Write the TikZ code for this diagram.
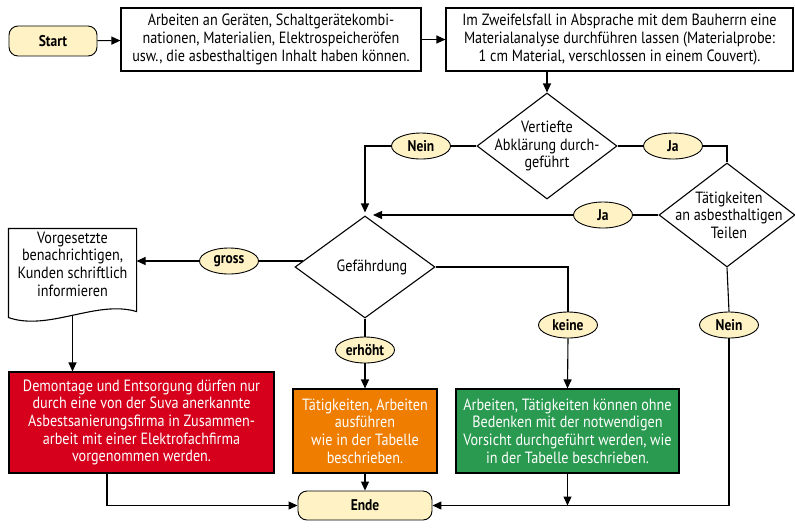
\documentclass[tikz,border=0pt]{standalone}
\usepackage{fontspec}
\setmainfont{PT Sans}[FakeStretch=0.87]
\usetikzlibrary{arrows.meta,shapes.geometric,calc}
\definecolor{lab}{HTML}{FFF3C6}
\definecolor{redb}{HTML}{D6001C}
\definecolor{orab}{HTML}{EE7D00}
\definecolor{grnb}{HTML}{2A9A50}
\begin{document}
\begin{tikzpicture}[x=1pt,y=-1pt,line width=1.1pt,
  every node/.style={font=\fontsize{16.3}{17.6}\selectfont,inner sep=0pt},
  txtbox/.style={draw,rectangle,align=center,line width=1.1pt},
  colbox/.style={draw,rectangle,align=center,text=white,line width=1.1pt},
  lbl/.style={draw,ellipse,fill=lab,font=\fontsize{15.5}{17.5}\selectfont\bfseries,line width=0.9pt,minimum width=59pt,minimum height=26pt},
  term/.style={draw,rectangle,rounded corners=9pt,fill=lab,font=\fontsize{15.5}{17.5}\selectfont\bfseries,line width=0.9pt},
  dia/.style={draw,diamond,line width=1.1pt},
  arr/.style={-{Triangle[length=9pt,width=8pt]}}]
\useasboundingbox (0,0) rectangle (795,531);

% nodes
\node[term,minimum width=88pt,minimum height=30pt] (start) at (53,41) {Start};
\node[txtbox,minimum width=300pt,minimum height=63pt] (box1) at (271,39.5)
  {Arbeiten an Geräten, Schaltgerätekombi-\\nationen, Materialien, Elektrospeicheröfen\\usw., die asbesthaltigen Inhalt haben können.};
\node[txtbox,minimum width=347pt,minimum height=63pt] (box2) at (619.5,39.5)
  {Im Zweifelsfall in Absprache mit dem Bauherrn eine\\Materialanalyse durchführen lassen (Materialprobe:\\1 cm Material, verschlossen in einem Couvert).};
\node[dia,minimum width=140pt,minimum height=106pt] (d1) at (547,146) {};
\node[align=center] (d1t) at (547,146) {Vertiefte\\Abklärung durch-\\geführt};
\node[lbl] (nein1) at (421,146) {Nein};
\node[lbl] (ja1) at (673,146) {Ja};
\node[dia,minimum width=136pt,minimum height=104pt] (d2) at (727,215) {};
\node[align=center] (d2t) at (729,215) {Tätigkeiten\\an asbesthaltigen\\Teilen};
\node[lbl] (ja2) at (603,215) {Ja};
\node[dia,minimum width=140pt,minimum height=102pt] (gef) at (365,267) {};
\node (geft) at (372,267) {Gefährdung};
\node[lbl] (gross) at (229,261) {gross};
\node[minimum width=127pt,minimum height=86pt] (doc) at (72.5,272) {};
\node[align=center] (doct) at (72.5,264) {Vorgesetzte\\benachrichtigen,\\Kunden schriftlich\\informieren};
\node[colbox,fill=redb,minimum width=265pt,minimum height=101pt] (red) at (141.5,422.5)
  {Demontage und Entsorgung dürfen nur\\durch eine von der Suva anerkannte\\Asbestsanierungsfirma in Zusammen-\\arbeit mit einer Elektrofachfirma\\vorgenommen werden.};
\node[lbl] (erh) at (365,350) {erhöht};
\node[colbox,fill=orab,minimum width=144pt,minimum height=84pt] (ora) at (365,431)
  {Tätigkeiten, Arbeiten\\ausführen\\wie in der Tabelle\\beschrieben.};
\node[lbl] (keine) at (568,325) {keine};
\node[colbox,fill=grnb,minimum width=223pt,minimum height=84pt] (grn) at (567.5,431)
  {Arbeiten, Tätigkeiten können ohne\\Bedenken mit der notwendigen\\Vorsicht durchgeführt werden, wie\\in der Tabelle beschrieben.};
\node[lbl] (nein2) at (729,325) {Nein};
\node[term,minimum width=134pt,minimum height=29pt] (ende) at (365,505.5) {Ende};

% document shape
\draw (doc.north west) -- (doc.north east) -- ($(doc.south east)+(0,-4)$)
  .. controls +(-40,-12) and +(40,14) .. ($(doc.south west)+(0,2)$) -- cycle;

% connectors
\draw[arr] (start) -- (box1);
\draw[arr] (box1.east |- box2.west) -- (box2.west);
\draw[arr] (d1.north |- box2.south) -- (d1.north);
\draw (d1.west) -- (nein1.east);
\draw[arr] (nein1.west) -| ([yshift=3pt]gef.north);
\draw (d1.east) -- (ja1.west);
\draw (ja1.east) -| (d2.north);
\draw (d2.west) -- (ja2.east);
\draw[arr] (ja2.west) -- ([xshift=8pt]gef.north |- ja2.west);
\draw (gross.east) -- (gross.east -| gef.174);
\draw[arr] (gross.west) -- (gross.west -| doc.east);
\draw[arr] ($(doc.south)+(0,-1)$) -- (red.north -| doc.south);
\draw[arr] ([xshift=-34.5pt]red.south) |- (ende.west);
\draw (gef.south) -- (erh.north);
\draw[arr] (erh.south) -- (ora.north);
\draw[arr] (ora.south) -- (ende.north);
\draw (gef.east) -| (keine.north);
\draw[arr] (keine.south) -- (grn.north);
\draw[arr] (grn.south) -- (grn.south |- ende.east);
\draw (d2.south) -- (nein2.north);
\draw[arr] (nein2.south) |- (ende.east);
\end{tikzpicture}
\end{document}
